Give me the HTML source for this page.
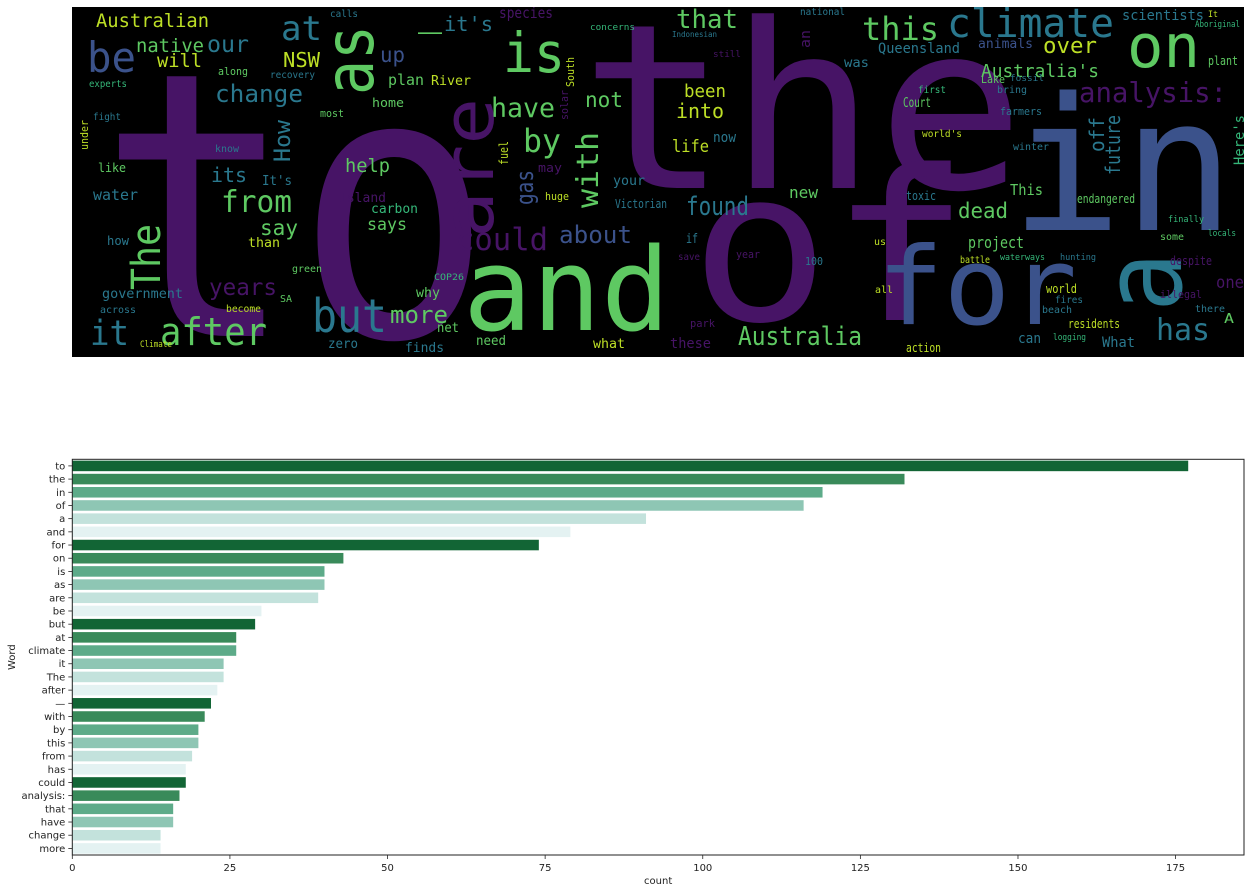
<!DOCTYPE html>
<html><head><meta charset="utf-8">
<style>
html,body{margin:0;padding:0;background:#fff;}
svg{display:block;}
</style></head>
<body>
<svg id="root" width="1251" height="893" xmlns="http://www.w3.org/2000/svg">
  <rect x="72" y="7" width="1172" height="350" fill="#000"/>
  <g id="cloud"></g>
  <rect x="0" y="0" width="72" height="893" fill="#fff"/>
  <rect x="1244" y="0" width="7" height="893" fill="#fff"/>
  <rect x="0" y="0" width="1251" height="7" fill="#fff"/>
  <rect x="0" y="357" width="1251" height="90" fill="#fff"/>
  <g id="bars"></g>
</svg>
<script>
// ---- Word cloud words: text, x, y(baseline), font size, text length, colour, rotated
const P='#471466',B='#3b528b',T='#2a788e',G='#5ec962',G2='#35b779',Y='#bddf26';
const cloudWords=[
["to",98,336,370,395,P,0],["the",580,188,230,445,P,0],["in",1010,230,185,225,B,0],
["of",690,320,210,280,P,0],["and",463,330,115,207,G,0],["for",877,324,108,200,B,0],
["a",1181,312,110,60,T,1],["are",493,238,70,140,P,1],["as",373,95,68,70,G,1],
["climate",947,37,40,167,T,0],["on",1127,67,60,73,G,0],["is",503,72,55,62,G,0],
["be",87,72,42,49,B,0],["at",281,40,34,41,T,0],["this",862,40,32,77,G,0],["that",676,28,26,62,G,0],
["analysis:",1079,102,28,148,P,0],["but",312,332,46,75,T,0],["after",160,345,38,107,G,0],
["it",90,345,35,39,T,0],["Australia",738,345,26,124,G,0],["Australian",96,27,19,113,Y,0],
["could",456,250,31,92,P,0],["from",221,212,30,71,G,0],["The",160,290,40,66,G,1],
["has",1156,340,30,54,T,0],["have",491,117,27,64,G,0],["by",523,152,32,38,G,0],
["with",598,208,30,76,G,1],["change",215,102,24,88,T,0],["our",207,52,23,42,T,0],
["dead",958,218,21,50,G,0],["found",686,215,26,63,T,0],["about",559,243,24,73,B,0],
["—",418,40,24,24,G,0],["it's",444,31,20,49,T,0],["species",499,18,15,54,P,0],
["native",136,52,19,68,G,0],["will",157,67,19,45,Y,0],["NSW",283,67,20,37,Y,0],
["up",380,62,21,25,B,0],["plan",388,85,15,36,G,0],["River",431,85,13,40,Y,0],
["not",585,107,21,38,G,0],["How",290,162,22,42,T,1],["help",345,172,19,45,G,0],
["its",211,182,20,36,T,0],["It's",262,185,13,30,T,0],["water",93,200,15,45,T,0],
["say",260,235,21,38,G,0],["says",367,230,17,40,G,0],["carbon",371,213,13,47,G2,0],
["Island",339,202,13,47,P,0],["gas",533,205,24,35,B,1],["years",209,295,23,68,P,0],
["more",390,323,24,58,G,0],["government",102,298,13.5,81,T,0],["zero",328,348,13,30,T,0],
["finds",405,352,13,39,T,0],["need",476,345,13,30,G,0],["what",593,348,13,32,Y,0],
["net",437,332,13,22,G,0],["why",416,297,13,24,G,0],["Victorian",615,208,12,52,T,0],
["your",613,185,13,32,T,0],["over",1043,53,22,54,Y,0],["Australia's",981,77,18,118,G,0],
["Queensland",878,53,14,82,T,0],["animals",978,48,13,55,B,0],["scientists",1122,20,14,82,T,0],
["been",684,97,18,42,Y,0],["into",676,118,20,48,Y,0],["life",672,152,17,37,Y,0],
["new",789,198,16,29,G,0],["This",1010,195,15,33,G,0],["project",968,248,16,56,G,0],
["future",1120,175,20,60,T,1],["off",1104,152,20,35,T,1],["Here's",1244,165,14,50,G2,1],
["one",1216,288,17,28,P,0],["Court",903,107,13,28,G,0],["residents",1068,328,12,52,Y,0],
["endangered",1077,203,12,58,G,0],["now",713,142,14,23,T,0],["these",670,348,14,41,P,0],
["world",1046,293,12,31,Y,0],["can",1018,343,14,23,T,0],["What",1102,347,14,33,T,0],
["action",906,352,12,35,Y,0],
["experts",89,87,10,38,G2,0],["fight",93,120,10,28,T,0],["under",88,150,11,30,Y,1],
["like",98,172,12,28,G,0],["how",107,245,12,22,T,0],["across",100,313,10,36,T,0],
["Climate",140,347,9,32,Y,0],["know",215,152,10,24,T,0],["along",218,75,11,30,G,0],
["recovery",270,78,10,45,T,0],["home",372,107,12,32,G,0],["most",320,117,11,24,G,0],
["than",248,247,13,32,Y,0],["become",226,312,10,35,Y,0],["green",292,272,10,30,G,0],
["COP26",434,280,9,30,G2,0],["huge",545,200,11,24,Y,0],["may",538,172,12,24,P,0],
["SA",280,302,10,12,G,0],["calls",330,17,10,28,T,0],["concerns",590,30,9,45,G2,0],
["fuel",508,165,12,24,Y,1],["solar",568,120,11,30,P,1],["South",574,87,11,30,Y,1],
["toxic",906,200,12,30,T,0],["battle",960,263,10,30,Y,0],["waterways",1000,260,9,45,G2,0],
["hunting",1060,260,9,36,T,0],["despite",1170,265,12,42,P,0],["illegal",1160,298,11,42,P,0],
["beach",1042,313,10,30,T,0],["fires",1055,303,10,28,T,0],["finally",1168,222,9,36,G2,0],
["winter",1013,150,10,36,T,0],["world's",922,137,10,40,Y,0],["farmers",1000,115,11,42,T,0],
["first",918,93,10,28,G2,0],["bring",997,93,10,30,T,0],["fossil",1010,81,9,34,T,0],
["Lake",981,83,11,24,G,0],["was",844,67,13,25,T,0],["an",810,48,14,18,P,1],
["plant",1208,65,12,30,G,0],["Aboriginal",1195,27,9,45,G2,0],["It",1208,17,9,10,Y,0],
["national",800,15,10,45,T,0],["Indonesian",672,37,8,45,T,0],["still",713,57,9,28,P,0],
["A",1224,323,13,10,G,0],["there",1195,312,10,30,T,0],["some",1160,240,10,24,G,0],
["locals",1208,236,9,28,G2,0],["park",690,327,11,25,P,0],["save",678,260,10,22,P,0],
["if",686,243,13,12,T,0],["100",805,265,11,18,T,0],["year",736,258,11,24,P,0],
["all",875,293,10,18,Y,0],["us",874,245,10,12,Y,0],["logging",1053,340,9,33,G2,0]
];
const cloud=document.getElementById('cloud');
const NS='http://www.w3.org/2000/svg';
cloudWords.forEach(w=>{
  const t=document.createElementNS(NS,'text');
  t.textContent=w[0];
  t.setAttribute('font-family','"DejaVu Sans Mono","Liberation Mono",monospace');
  t.setAttribute('font-size',w[3]);
  t.setAttribute('fill',w[5]);
  t.setAttribute('textLength',w[4]);
  t.setAttribute('lengthAdjust','spacingAndGlyphs');
  if(w[6]){ t.setAttribute('x',0); t.setAttribute('y',0);
    t.setAttribute('transform','translate('+w[1]+','+w[2]+') rotate(-90)');
  } else { t.setAttribute('x',w[1]); t.setAttribute('y',w[2]); }
  
  
  cloud.appendChild(t);
});

// ---- Bar chart data
const words=["to","the","in","of","a","and","for","on","is","as","are","be","but","at","climate","it","The","after","—","with","by","this","from","has","could","analysis:","that","have","change","more"];
const counts=[177,132,119,116,91,79,74,43,40,40,39,30,29,26,26,24,24,23,22,21,20,20,19,18,18,17,16,16,14,14];
const xTicks=[0,25,50,75,100,125,150,175];
const palette=["#126535","#398a5a","#5dab89","#8ec6b4","#c3e2dc","#e4f2f2"];

const L=72.3,R=1244,TOP=459.3,BOT=855,XMAX=185.85;
const sx=v=>L+(v/XMAX)*(R-L);
const step=(BOT-TOP)/words.length;
const sy=i=>TOP+step*i;
const g=document.getElementById('bars');
const FONT='"DejaVu Sans","Liberation Sans",sans-serif';

counts.forEach((c,i)=>{
  const r=document.createElementNS(NS,'rect');
  r.setAttribute('x',sx(0));
  r.setAttribute('y',sy(i)+step*0.1);
  r.setAttribute('width',sx(c)-sx(0));
  r.setAttribute('height',step*0.8);
  r.setAttribute('fill',palette[i%6]);
  
  
  g.appendChild(r);
  const tk=document.createElementNS(NS,'line');
  tk.setAttribute('x1',L-4);tk.setAttribute('x2',L);
  tk.setAttribute('y1',sy(i)+step/2);tk.setAttribute('y2',sy(i)+step/2);
  tk.setAttribute('stroke','#222');tk.setAttribute('stroke-width',0.8);
  g.appendChild(tk);
  const lb=document.createElementNS(NS,'text');
  lb.textContent=words[i];
  lb.setAttribute('x',L-7);lb.setAttribute('y',sy(i)+step/2+3.5);
  lb.setAttribute('text-anchor','end');lb.setAttribute('font-size','10');
  lb.setAttribute('font-family',FONT);lb.setAttribute('fill','#222');
  
  
  g.appendChild(lb);
});
xTicks.forEach(v=>{
  const tk=document.createElementNS(NS,'line');
  tk.setAttribute('x1',sx(v));tk.setAttribute('x2',sx(v));
  tk.setAttribute('y1',BOT);tk.setAttribute('y2',BOT+4);
  tk.setAttribute('stroke','#222');tk.setAttribute('stroke-width',0.8);
  g.appendChild(tk);
  const lb=document.createElementNS(NS,'text');
  lb.textContent=v;
  lb.setAttribute('x',sx(v));lb.setAttribute('y',BOT+16);
  lb.setAttribute('text-anchor','middle');lb.setAttribute('font-size','10');
  lb.setAttribute('font-family',FONT);lb.setAttribute('fill','#222');
  
  
  g.appendChild(lb);
});
const frame=document.createElementNS(NS,'rect');
frame.setAttribute('x',L);frame.setAttribute('y',TOP);
frame.setAttribute('width',R-L);frame.setAttribute('height',BOT-TOP);
frame.setAttribute('fill','none');frame.setAttribute('stroke','#222');frame.setAttribute('stroke-width',1);


g.appendChild(frame);
const xl=document.createElementNS(NS,'text');
xl.textContent='count';
xl.setAttribute('x',(L+R)/2);xl.setAttribute('y',884);
xl.setAttribute('text-anchor','middle');xl.setAttribute('font-size','10');
xl.setAttribute('font-family',FONT);xl.setAttribute('fill','#222');


g.appendChild(xl);
const yl=document.createElementNS(NS,'text');
yl.textContent='Word';
yl.setAttribute('transform','translate(15,'+((TOP+BOT)/2)+') rotate(-90)');
yl.setAttribute('text-anchor','middle');yl.setAttribute('font-size','10');
yl.setAttribute('font-family',FONT);yl.setAttribute('fill','#222');


g.appendChild(yl);
</script>
</body></html>
